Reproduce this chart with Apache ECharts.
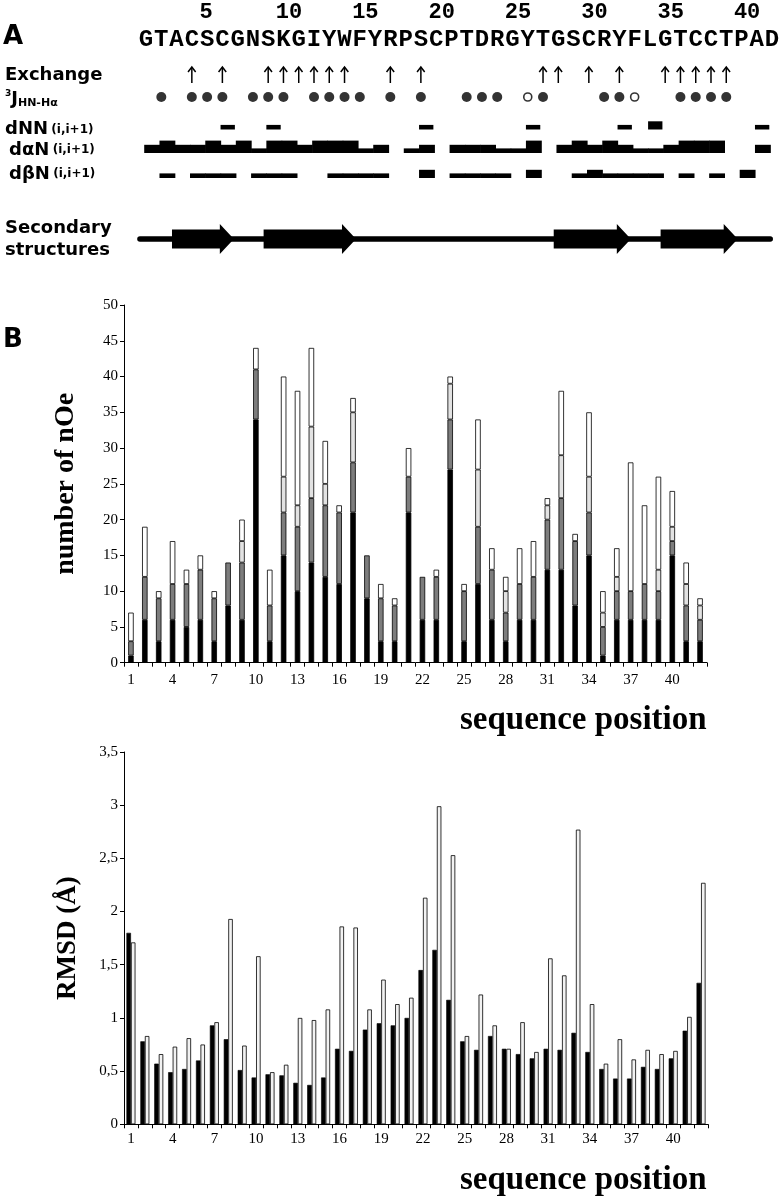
<!DOCTYPE html>
<html><head><meta charset="utf-8">
<script src="https://cdn.jsdelivr.net/npm/echarts@6/dist/echarts.min.js"></script>
<style>html,body{margin:0;padding:0;background:#fff}#c{width:783px;height:1199px}</style>
</head><body><div id="c"></div>
<script>
// ---------- Panel A data ----------
const sequence = ['G','T','A','C','S','C','G','N','S','K','G','I','Y','W','F','Y','R','P','S','C','P','T','D','R','G','Y','T','G','S','C','R','Y','F','L','G','T','C','C','T','P','A','D'];
const seqTicks = [5,10,15,20,25,30,35,40];
const exchange = [4,6,9,10,11,12,13,14,17,19,27,28,30,32,35,36,37,38,39];
const jFilled = [2,4,5,6,8,9,10,12,13,14,15,17,19,22,23,24,27,31,32,36,37,38,39];
const jOpen = [26,33];
// connectivities: [residue i, strength 1=weak 2=medium 3=strong]
const dNN = [[6,1],[9,1],[19,1],[26,1],[32,1],[34,2],[41,1]];
const dAN = [[1,2],[2,3],[3,2],[4,2],[5,3],[6,2],[7,3],[8,1],[9,3],[10,3],[11,2],[12,3],[13,3],[14,3],[15,1],[16,2],[18,1],[19,2],[21,2],[22,2],[23,2],[24,1],[25,1],[26,3],[28,2],[29,3],[30,2],[31,3],[32,2],[33,1],[34,1],[35,2],[36,3],[37,3],[38,3],[41,2]];
const dBN = [[2,1],[4,1],[5,1],[6,1],[8,1],[9,1],[10,1],[13,1],[14,1],[15,1],[16,1],[19,2],[21,1],[22,1],[23,1],[24,1],[26,2],[29,1],[30,2],[31,1],[32,1],[33,1],[34,1],[36,1],[38,1],[40,2]];
const strands = [[3,6],[9,14],[28,32],[35,39]];
const chain = [1,42];

// ---------- Panel B data ----------
const positions = ['1','2','3','4','5','6','7','8','9','10','11','12','13','14','15','16','17','18','19','20','21','22','23','24','25','26','27','28','29','30','31','32','33','34','35','36','37','38','39','40','41','42'];
const noeIntra  = [1,6,3,6,5,6,3,8,6,34,3,15,10,14,12,11,21,9,3,3,21,6,6,27,3,11,6,3,6,6,13,13,8,15,1,6,6,6,6,15,3,3];
const noeSeq    = [2,6,6,5,6,7,6,6,8,7,5,6,9,9,10,10,7,6,6,5,5,6,6,7,7,8,7,4,5,6,7,10,9,6,4,4,4,5,4,2,5,3];
const noeMedium = [0,0,0,0,0,0,0,0,3,0,0,5,3,10,3,0,7,0,0,0,0,0,0,5,0,8,0,3,0,0,2,6,0,5,2,2,0,0,3,2,3,2];
const noeLong   = [4,7,1,6,2,2,1,0,3,3,5,14,16,11,6,1,2,0,2,1,4,0,1,1,1,7,3,2,5,5,1,9,1,9,3,4,18,11,13,5,3,1];
const rmsdBlack = [1.80,0.78,0.57,0.49,0.52,0.60,0.93,0.80,0.51,0.44,0.47,0.46,0.39,0.37,0.44,0.71,0.69,0.89,0.95,0.93,1.00,1.45,1.64,1.17,0.78,0.70,0.83,0.71,0.66,0.62,0.71,0.70,0.86,0.68,0.52,0.43,0.43,0.54,0.52,0.62,0.88,1.33];
const rmsdWhite = [1.71,0.83,0.66,0.73,0.81,0.75,0.96,1.93,0.74,1.58,0.49,0.56,1.00,0.98,1.08,1.86,1.85,1.08,1.36,1.13,1.19,2.13,2.99,2.53,0.83,1.22,0.93,0.71,0.96,0.68,1.56,1.40,2.77,1.13,0.57,0.80,0.61,0.70,0.66,0.69,1.01,2.27];

// ---------- layout / style ----------
const ROW = {num:12, seq:40, exch:75, jc:97, nn:129.5, an:153, bn:178, ss:239};
const BAR_H = [0, 4.6, 8.2, 12.4];
const SANS = 'DejaVu Sans';
const SERIF = 'Liberation Serif';
const MONO = 'Liberation Mono';

const chart = echarts.init(document.getElementById('c'), null, {renderer:'canvas'});

function connSeries(list, rowY, frac){
  return {
    type:'custom', xAxisIndex:0, yAxisIndex:0, silent:true,
    data: list.map(d => [d[0], rowY, d[1]]),
    renderItem(params, api){
      const i = api.value(0), s = api.value(2);
      const a = api.coord([i - 0.12, api.value(1)]);
      const b = api.coord([i - 0.12 + frac, api.value(1)]);
      const h = BAR_H[s];
      return {type:'rect', shape:{x:a[0], y:a[1]-h, width:b[0]-a[0]+0.6, height:h}, style:{fill:'#000'}};
    }
  };
}

const tickLabelStyle = {fontFamily:SERIF, fontSize:15, color:'#000'};
function catAxis(gi, margin){
  return {type:'category', gridIndex:gi, data:positions, boundaryGap:true,
    axisLine:{show:true, lineStyle:{color:'#000', width:1}},
    axisTick:{show:true, interval:0, alignWithLabel:false, length:4, lineStyle:{color:'#000'}},
    axisLabel:Object.assign({interval:2, margin:margin}, tickLabelStyle),
    splitLine:{show:false}};
}

const option = {
  animation:false,
  backgroundColor:'#fff',
  grid:[
    {left:138.4, top:0, width:641.3, height:290, containLabel:false, outerBoundsMode:'none'},
    {left:124, top:305, width:583, height:357.7, containLabel:false, outerBoundsMode:'none'},
    {left:124, top:752, width:584, height:372.3, containLabel:false, outerBoundsMode:'none'}
  ],
  xAxis:[
    {type:'value', gridIndex:0, min:0.5, max:42.5, show:false},
    catAxis(1, 10),
    catAxis(2, 7)
  ],
  yAxis:[
    {type:'value', gridIndex:0, min:0, max:290, inverse:true, show:false},
    {type:'value', gridIndex:1, min:0, max:50, interval:5,
      name:'number of nOe', nameLocation:'middle', nameGap:44, nameRotate:90,
      nameTextStyle:{fontFamily:SERIF, fontWeight:'bold', fontSize:28, color:'#000'},
      axisLine:{show:true, lineStyle:{color:'#000'}},
      axisTick:{show:true, length:4, lineStyle:{color:'#000'}},
      axisLabel:Object.assign({margin:6}, tickLabelStyle), splitLine:{show:false}},
    {type:'value', gridIndex:2, min:0, max:3.5, interval:0.5,
      name:'RMSD (Å)', nameLocation:'middle', nameGap:42, nameRotate:90,
      nameTextStyle:{fontFamily:SERIF, fontWeight:'bold', fontSize:27, color:'#000'},
      axisLine:{show:true, lineStyle:{color:'#000'}},
      axisTick:{show:true, length:4, lineStyle:{color:'#000'}},
      axisLabel:Object.assign({margin:6, formatter:v => String(v).replace('.', ',')}, tickLabelStyle), splitLine:{show:false}}
  ],
  graphic:[
    {type:'text', x:3, y:37, style:{text:'A', fontFamily:SANS, fontWeight:'bold', fontSize:26, fill:'#000', verticalAlign:'middle'}},
    {type:'text', x:3, y:340, style:{text:'B', fontFamily:SANS, fontWeight:'bold', fontSize:26, fill:'#000', verticalAlign:'middle'}},
    {type:'text', x:5, y:ROW.exch, style:{text:'Exchange', fontFamily:SANS, fontWeight:'bold', fontSize:18, fill:'#000', verticalAlign:'middle'}},
    {type:'text', x:5, y:ROW.jc + 2, style:{text:'{s|3}{j|J}{h|HN-Hα}', fontFamily:SANS, fontWeight:'bold', fill:'#000', verticalAlign:'middle',
      rich:{s:{fontSize:9, fontFamily:SANS, fontWeight:'bold', verticalAlign:'top', lineHeight:20}, j:{fontSize:18, fontFamily:SANS, fontWeight:'bold', lineHeight:20}, h:{fontSize:11, fontFamily:SANS, fontWeight:'bold', verticalAlign:'bottom', lineHeight:20}}}},
    {type:'text', x:5, y:ROW.nn, style:{text:'{a|dNN} {b|(i,i+1)}', fill:'#000', verticalAlign:'middle',
      rich:{a:{fontSize:18, fontFamily:SANS, fontWeight:'bold'}, b:{fontSize:12, fontFamily:SANS, fontWeight:'bold'}}}},
    {type:'text', x:9, y:ROW.an - 3, style:{text:'{a|dαN} {b|(i,i+1)}', fill:'#000', verticalAlign:'middle',
      rich:{a:{fontSize:18, fontFamily:SANS, fontWeight:'bold'}, b:{fontSize:12, fontFamily:SANS, fontWeight:'bold'}}}},
    {type:'text', x:9, y:ROW.bn - 4, style:{text:'{a|dβN} {b|(i,i+1)}', fill:'#000', verticalAlign:'middle',
      rich:{a:{fontSize:18, fontFamily:SANS, fontWeight:'bold'}, b:{fontSize:12, fontFamily:SANS, fontWeight:'bold'}}}},
    {type:'text', x:5, y:ROW.ss - 11, style:{text:'Secondary', fontFamily:SANS, fontWeight:'bold', fontSize:18, fill:'#000', verticalAlign:'middle'}},
    {type:'text', x:5, y:ROW.ss + 11, style:{text:'structures', fontFamily:SANS, fontWeight:'bold', fontSize:18, fill:'#000', verticalAlign:'middle'}},
    {type:'text', x:460, y:720, style:{text:'sequence position', fontFamily:SERIF, fontWeight:'bold', fontSize:33, fill:'#000', verticalAlign:'middle'}},
    {type:'text', x:460, y:1180, style:{text:'sequence position', fontFamily:SERIF, fontWeight:'bold', fontSize:33, fill:'#000', verticalAlign:'middle'}}
  ],
  series:[
    {type:'custom', xAxisIndex:0, yAxisIndex:0, silent:true,
      data: seqTicks.map(n => [n, ROW.num]),
      renderItem(params, api){
        const p = api.coord([api.value(0) - 0.5, api.value(1)]);
        return {type:'text', x:p[0], y:p[1], style:{text:String(seqTicks[params.dataIndex]), fontFamily:MONO, fontWeight:'bold', fontSize:22, fill:'#000', align:'left', verticalAlign:'middle'}};
      }},
    {type:'custom', xAxisIndex:0, yAxisIndex:0, silent:true,
      data: sequence.map((s, i) => [i + 1, ROW.seq]),
      renderItem(params, api){
        const p = api.coord([api.value(0), api.value(1)]);
        return {type:'text', x:p[0], y:p[1], style:{text:sequence[params.dataIndex], fontFamily:MONO, fontWeight:'bold', fontSize:24, fill:'#000', align:'center', verticalAlign:'middle'}};
      }},
    {type:'custom', xAxisIndex:0, yAxisIndex:0, silent:true,
      data: exchange.map(i => [i, ROW.exch]),
      renderItem(params, api){
        const p = api.coord([api.value(0), api.value(1)]);
        const x = p[0], y = p[1];
        return {type:'group', children:[
          {type:'line', shape:{x1:x, y1:y+8, x2:x, y2:y-7.5}, style:{stroke:'#000', lineWidth:1.5}},
          {type:'polyline', shape:{points:[[x-3.8,y-3],[x,y-8],[x+3.8,y-3]]}, style:{stroke:'#000', lineWidth:1.5, fill:null}}
        ]};
      }},
    {type:'scatter', xAxisIndex:0, yAxisIndex:0, silent:true, symbol:'circle', symbolSize:10,
      data: jFilled.map(i => [i, ROW.jc]), itemStyle:{color:'#000'}},
    {type:'scatter', xAxisIndex:0, yAxisIndex:0, silent:true, symbol:'circle', symbolSize:8,
      data: jOpen.map(i => [i, ROW.jc]), itemStyle:{color:'#fff', borderColor:'#000', borderWidth:1.6}},
    connSeries(dNN, ROW.nn, 0.9),
    connSeries(dAN, ROW.an, 1.0),
    connSeries(dBN, ROW.bn, 1.0),
    {type:'custom', xAxisIndex:0, yAxisIndex:0, silent:true,
      data:[[chain[0], chain[1], ROW.ss]],
      renderItem(params, api){
        const a = api.coord([api.value(0) - 0.4, api.value(2)]);
        const b = api.coord([api.value(1) - 0.12, api.value(2)]);
        return {type:'line', shape:{x1:a[0], y1:a[1], x2:b[0], y2:b[1]}, style:{stroke:'#000', lineWidth:5.5, lineCap:'round'}};
      }},
    {type:'custom', xAxisIndex:0, yAxisIndex:0, silent:true,
      data: strands.map(s => [s[0], s[1], ROW.ss]),
      renderItem(params, api){
        const a = api.coord([api.value(0) - 0.3, api.value(2)]);
        const b = api.coord([api.value(1) + 0.75, api.value(2)]);
        const y = a[1], head = 14, bh = 9.5, hh = 15;
        const x0 = a[0], x1 = b[0] - head, xt = b[0];
        return {type:'polygon', shape:{points:[[x0,y-bh],[x1,y-bh],[x1,y-hh],[xt,y],[x1,y+hh],[x1,y+bh],[x0,y+bh]]}, style:{fill:'#000'}};
      }},
    {type:'bar', xAxisIndex:1, yAxisIndex:1, stack:'noe', barWidth:5.5, data:noeIntra,
      itemStyle:{color:'#000', borderColor:'#000', borderWidth:0.8}},
    {type:'bar', xAxisIndex:1, yAxisIndex:1, stack:'noe', barWidth:5.5, data:noeSeq,
      itemStyle:{color:'#7d7d7d', borderColor:'#000', borderWidth:0.8}},
    {type:'bar', xAxisIndex:1, yAxisIndex:1, stack:'noe', barWidth:5.5, data:noeMedium.map(v => v === 0 ? '-' : v),
      itemStyle:{color:'#e2e2e2', borderColor:'#000', borderWidth:0.8}},
    {type:'bar', xAxisIndex:1, yAxisIndex:1, stack:'noe', barWidth:5.5, data:noeLong.map(v => v === 0 ? '-' : v),
      itemStyle:{color:'#fff', borderColor:'#000', borderWidth:0.8}},
    {type:'bar', xAxisIndex:2, yAxisIndex:2, barWidth:4.5, barGap:'0%', data:rmsdBlack,
      itemStyle:{color:'#000', borderColor:'#000', borderWidth:0.6}},
    {type:'bar', xAxisIndex:2, yAxisIndex:2, barWidth:4.5, barGap:'0%', data:rmsdWhite,
      itemStyle:{color:'#f2f2f2', borderColor:'#000', borderWidth:0.8}}
  ]
};
chart.setOption(option);
</script>
</body></html>
